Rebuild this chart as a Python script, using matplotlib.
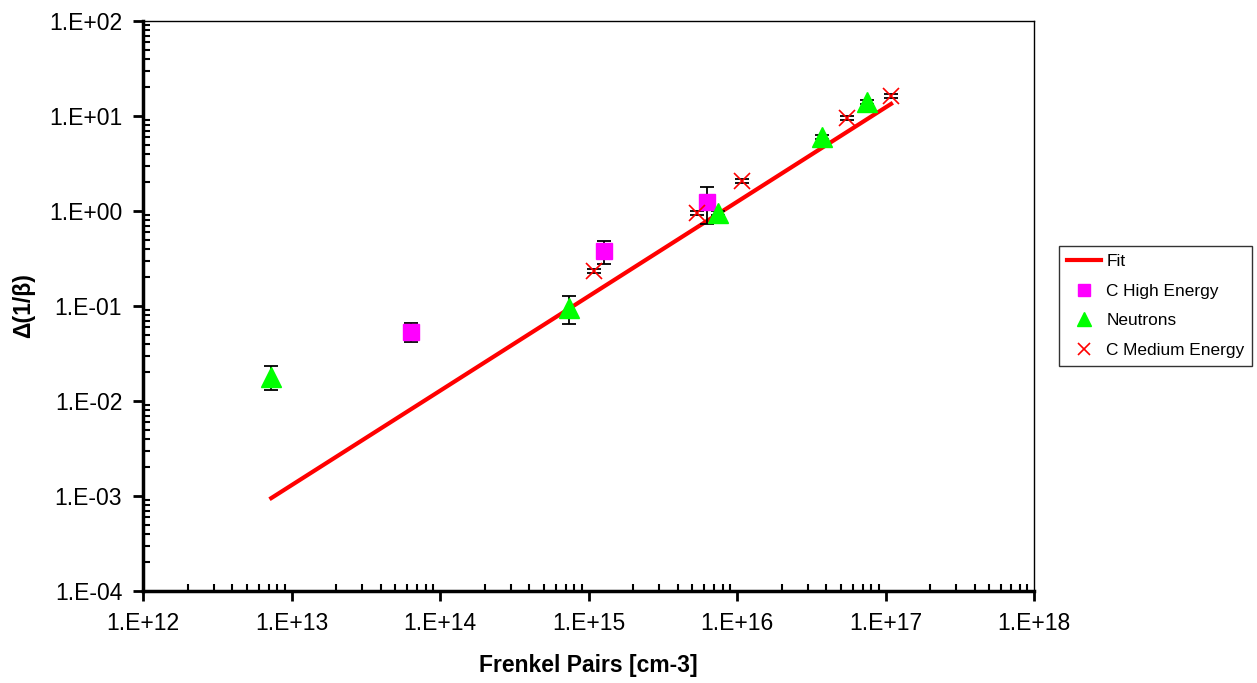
import matplotlib
matplotlib.use("Agg")
import matplotlib.pyplot as plt
import numpy as np
from matplotlib.ticker import LogLocator, NullFormatter, FuncFormatter

plt.rcParams['font.family'] = ['Liberation Sans', 'DejaVu Sans']

# Neutrons
neu_x = [7.3e12, 7.4e14, 7.45e15, 3.73e16, 7.5e16]
neu_y = [0.0179, 0.095, 0.95, 6.0, 14.0]
neu_lo = [0.013, 0.065, 0.90, 5.7, 13.3]
neu_hi = [0.0233, 0.127, 1.00, 6.3, 14.7]

# C High Energy
che_x = [6.4e13, 1.27e15, 6.28e15]
che_y = [0.053, 0.38, 1.24]
che_lo = [0.042, 0.28, 0.73]
che_hi = [0.066, 0.48, 1.78]

# C Medium Energy
cme_x = [1.09e15, 5.4e15, 1.08e16, 5.5e16, 1.09e17]
cme_y = [0.233, 0.95, 2.07, 9.5, 16.2]
cme_lo = [0.222, 0.90, 1.97, 9.0, 15.3]
cme_hi = [0.245, 1.00, 2.17, 10.0, 17.1]

# Fit
fit_x = [7.3e12, 1.09e17]
fit_y = [9.5e-4, 13.4]

fig = plt.figure(figsize=(12.57, 6.83), dpi=100)
ax = fig.add_axes([0.1138, 0.1347, 0.7088, 0.8346])

def err(y, lo, hi):
    y = np.array(y); return [y - np.array(lo), np.array(hi) - y]

ax.plot(fit_x, fit_y, color='#ff0000', lw=3, label='Fit', zorder=2)
ax.errorbar(che_x, che_y, yerr=err(che_y, che_lo, che_hi), fmt='none', ecolor='black',
            elinewidth=1.3, capsize=5, capthick=1.3, zorder=3)
ax.plot(che_x, che_y, 's', color='#ff00ff', ms=12, ls='none', label='C High Energy', zorder=4)
ax.errorbar(neu_x, neu_y, yerr=err(neu_y, neu_lo, neu_hi), fmt='none', ecolor='black',
            elinewidth=1.3, capsize=5, capthick=1.3, zorder=3)
ax.plot(neu_x, neu_y, '^', color='#00ff00', ms=14, ls='none', label='Neutrons', zorder=4)
ax.errorbar(cme_x, cme_y, yerr=err(cme_y, cme_lo, cme_hi), fmt='none', ecolor='black',
            elinewidth=1.3, capsize=5, capthick=1.3, zorder=3)
ax.plot(cme_x, cme_y, 'x', color='#ff0000', ms=12, mew=1.2, ls='none', label='C Medium Energy', zorder=4)

ax.set_xscale('log')
ax.set_yscale('log')
ax.set_xlim(1e12, 1e18)
ax.set_ylim(1e-4, 1e2)

fmt = FuncFormatter(lambda v, p: '1.E%+03d' % int(round(np.log10(v))))
for axis in (ax.xaxis, ax.yaxis):
    axis.set_major_locator(LogLocator(base=10, numticks=10))
    axis.set_minor_locator(LogLocator(base=10, subs=np.arange(2, 10), numticks=20))
    axis.set_major_formatter(fmt)
    axis.set_minor_formatter(NullFormatter())

ax.tick_params(which='major', direction='out', length=7, width=2, labelsize=16.5, pad=8)
ax.tick_params(which='minor', direction='in', length=5, width=1.5)

for s in ('left', 'bottom'):
    ax.spines[s].set_linewidth(2.5)
for s in ('top', 'right'):
    ax.spines[s].set_linewidth(1)

ax.set_xlabel('Frenkel Pairs [cm-3]', fontsize=16.5, fontweight='bold', labelpad=14)
ax.set_ylabel('Δ(1/β)', fontsize=16.5, fontweight='bold', labelpad=10)

leg = ax.legend(loc='center left', bbox_to_anchor=(1.028, 0.5), borderaxespad=0,
                fontsize=12.4, frameon=True, fancybox=False, edgecolor='black',
                borderpad=0.45, handlelength=2.0, labelspacing=0.85, handletextpad=0.3,
                markerscale=0.75)
leg.get_frame().set_linewidth(1)

fig.savefig('out.png', dpi=100)
